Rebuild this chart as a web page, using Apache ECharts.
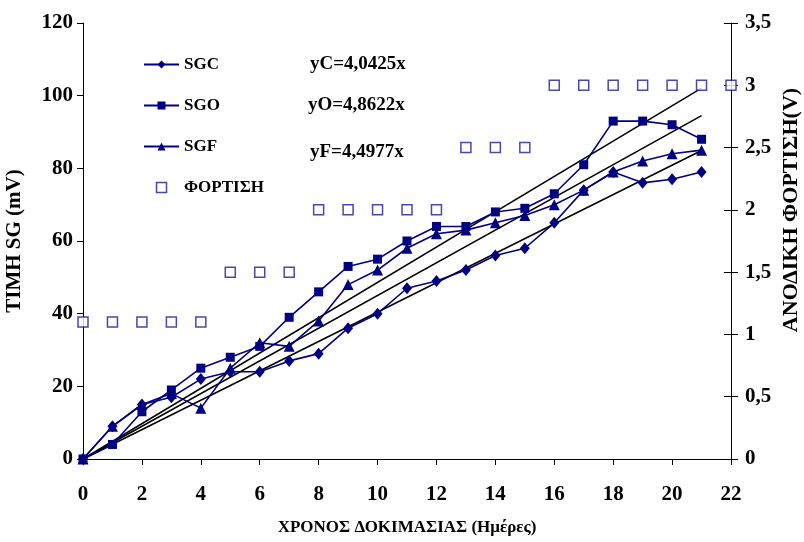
<!DOCTYPE html>
<html lang="el">
<head>
<meta charset="UTF-8">
<title>ΤΙΜΗ SG</title>
<script src="https://cdn.jsdelivr.net/npm/echarts@6/dist/echarts.min.js"></script>
<style>
  html, body { margin: 0; padding: 0; background: #fff; }
  #chart { width: 804px; height: 542px; }
</style>
</head>
<body>
<div id="chart"></div>
<script>
// ημέρες δοκιμασίας
var days = [0, 1, 2, 3, 4, 5, 6, 7, 8, 9, 10, 11, 12, 13, 14, 15, 16, 17, 18, 19, 20, 21];
var sgc = [0, 9, 15, 17, 22, 24, 24, 27, 29, 36, 40, 47, 49, 52, 56, 58, 65, 74, 79, 76, 77, 79];
var sgo = [0, 4, 13, 19, 25, 28, 31, 39, 46, 53, 55, 60, 64, 64, 68, 69, 73, 81, 93, 93, 92, 88];
var sgf = [0, 9, 15, 18, 14, 25, 32, 31, 38, 48, 52, 58, 62, 63, 65, 67, 70, 74, 79, 82, 84, 85];

// ανοδική φόρτιση (V)
var chargeDays = [0, 1, 2, 3, 4, 5, 6, 7, 8, 9, 10, 11, 12, 13, 14, 15, 16, 17, 18, 19, 20, 21, 22];
var chargeVolts = [1.1, 1.1, 1.1, 1.1, 1.1, 1.5, 1.5, 1.5, 2, 2, 2, 2, 2, 2.5, 2.5, 2.5, 3, 3, 3, 3, 3, 3, 3];

// γραμμές τάσης (αρχή - τέλος)
var fitX = [0, 21];
var fitC = [0, 84.9];
var fitO = [0, 102.1];
var fitF = [0, 94.5];
var equations = ['yC=4,0425x', 'yO=4,8622x', 'yF=4,4977x'];

var NAVY = '#000080';
var FONT = '"Liberation Serif", "DejaVu Serif", serif';

function pairs(xs, ys) {
  return xs.map(function (x, i) { return [x, ys[i]]; });
}

var chart = echarts.init(document.getElementById('chart'));

var labelStyle = { color: '#000', fontFamily: FONT, fontWeight: 'bold', fontSize: 21 };

function fitSeries(ys) {
  return {
    type: 'line', data: pairs(fitX, ys), yAxisIndex: 0,
    showSymbol: false, symbol: 'none', silent: true, z: 1,
    lineStyle: { color: '#000', width: 1.5 }
  };
}

function sgSeries(name, ys, symbol, size) {
  return {
    name: name, type: 'line', data: pairs(days, ys), yAxisIndex: 0,
    symbol: symbol, symbolSize: size, z: 3,
    itemStyle: { color: NAVY },
    lineStyle: { color: NAVY, width: 1.6 }
  };
}

function eqText(x, y, s) {
  return { type: 'text', x: x, y: y, style: { text: s, fill: '#000', font: 'bold 19px ' + FONT, verticalAlign: 'middle' } };
}

var option = {
  animation: false,
  backgroundColor: '#fff',
  grid: { left: 83, right: 73, top: 23, bottom: 83, outerBoundsMode: 'none' },
  legend: {
    orient: 'vertical', left: 138, top: 51,
    itemWidth: 35, itemHeight: 10, itemGap: 24,
    textStyle: { color: '#000', fontFamily: FONT, fontWeight: 'bold', fontSize: 17 },
    data: ['SGC', 'SGO', 'SGF', {
      name: 'ΦΟΡΤΙΣΗ', icon: 'path://M0,0L10,0L10,10L0,10Z',
      itemStyle: { color: '#fff', borderColor: '#1a1a99', borderWidth: 1.5 }
    }]
  },
  xAxis: {
    type: 'value', min: 0, max: 22, interval: 2,
    name: 'ΧΡΟΝΟΣ ΔΟΚΙΜΑΣΙΑΣ (Ημέρες)', nameLocation: 'middle', nameGap: 60,
    nameTextStyle: { color: '#000', fontFamily: FONT, fontWeight: 'bold', fontSize: 17 },
    axisLine: { onZero: false, lineStyle: { color: '#000', width: 1 } },
    axisTick: { show: true, inside: false, length: 6, lineStyle: { color: '#000' } },
    axisLabel: Object.assign({ margin: 25 }, labelStyle),
    splitLine: { show: false }
  },
  yAxis: [{
    type: 'value', min: 0, max: 120, interval: 20, position: 'left',
    name: 'ΤΙΜΗ SG (mV)', nameLocation: 'middle', nameGap: 58,
    nameTextStyle: { color: '#000', fontFamily: FONT, fontWeight: 'bold', fontSize: 21 },
    axisLine: { show: true, lineStyle: { color: '#000', width: 1 } },
    axisTick: { show: true, length: 6, lineStyle: { color: '#000' } },
    axisLabel: Object.assign({ margin: 10 }, labelStyle),
    splitLine: { show: false }
  }, {
    type: 'value', min: 0, max: 3.5, interval: 0.5, position: 'right',
    axisLine: { show: true, lineStyle: { color: '#000', width: 1 } },
    axisTick: { show: true, length: 7, lineStyle: { color: '#000' } },
    axisLabel: Object.assign({
      margin: 14,
      formatter: function (v) { return String(v).replace('.', ','); }
    }, labelStyle),
    splitLine: { show: false }
  }, {
    // εσωτερικό μισό των σημαδιών του δεξιού άξονα
    type: 'value', min: 0, max: 3.5, interval: 0.5, position: 'right',
    axisLine: { show: false },
    axisTick: { show: true, inside: true, length: 7, lineStyle: { color: '#000' } },
    axisLabel: { show: false },
    splitLine: { show: false }
  }],
  graphic: [
    eqText(310, 64, equations[0]),
    eqText(308, 105, equations[1]),
    eqText(310, 152, equations[2]),
    {
      type: 'text', x: 791, y: 210, rotation: Math.PI / 2,
      style: { text: 'ΑΝΟΔΙΚΗ ΦΟΡΤΙΣΗ(V)', fill: '#000', font: 'bold 22px ' + FONT, align: 'center', verticalAlign: 'middle' }
    }
  ],
  series: [
    fitSeries(fitC),
    fitSeries(fitO),
    fitSeries(fitF),
    sgSeries('SGC', sgc, 'diamond', [10, 12]),
    sgSeries('SGO', sgo, 'rect', 9),
    sgSeries('SGF', sgf, 'triangle', 11),
    {
      name: 'ΦΟΡΤΙΣΗ', type: 'scatter', yAxisIndex: 1, z: 4,
      data: pairs(chargeDays, chargeVolts),
      symbol: 'rect', symbolSize: 10, clip: false,
      itemStyle: { color: '#fff', borderColor: '#1a1a99', borderWidth: 1.5 }
    }
  ]
};

chart.setOption(option);
</script>
</body>
</html>
